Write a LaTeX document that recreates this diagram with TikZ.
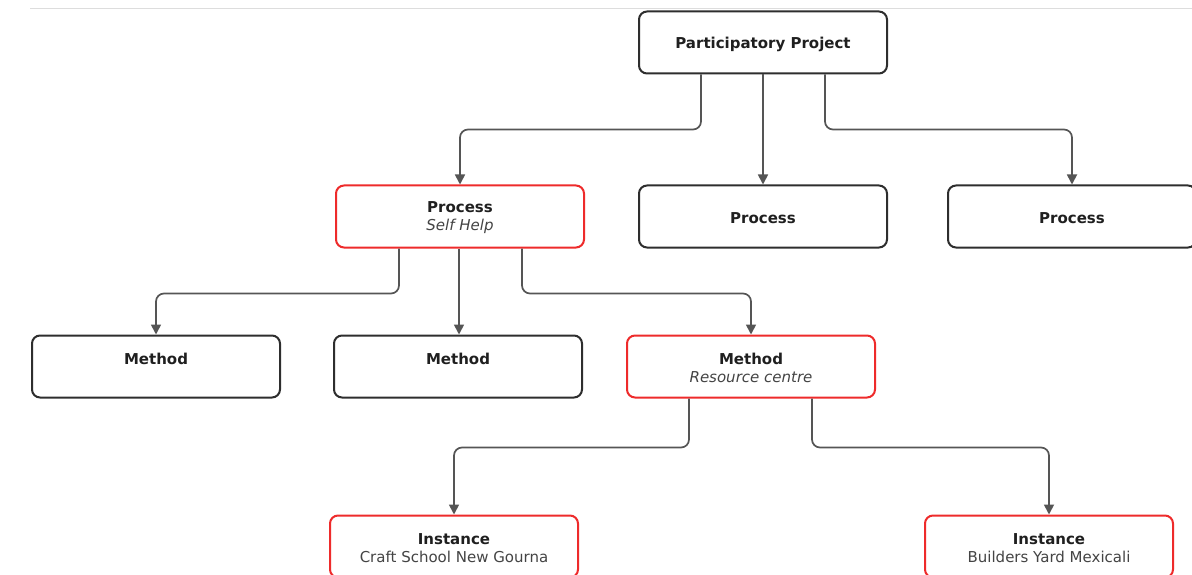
\documentclass[tikz,border=0pt]{standalone}
\usepackage{fontspec}
\setmainfont{DejaVu Sans}
\usetikzlibrary{arrows.meta}
\definecolor{boxline}{HTML}{2E2E2E}
\definecolor{hlred}{HTML}{EE2B2B}
\definecolor{linkgray}{HTML}{555555}
\definecolor{subgray}{HTML}{444444}
\definecolor{rulegray}{HTML}{DDDDDD}
\begin{document}
\begin{tikzpicture}[x=1pt,y=-1pt,
  box/.style={draw=boxline, line width=2pt, rounded corners=8pt, fill=white,
    minimum width=248pt, minimum height=62pt, inner sep=0pt, align=center,
    font=\fontsize{15}{18}\selectfont, text=black!88},
  hl/.style={draw=hlred},
  link/.style={draw=linkgray, line width=1.7pt, rounded corners=8pt,
    -{Triangle[length=10pt,width=10pt]}},
]
\useasboundingbox (0,0) rectangle (1192,575);
\clip (0,0) rectangle (1192,575);
% title line and grey second line of a box, set a little low
\newcommand{\ttl}[1]{\raisebox{-1.5pt}[\height][\depth]{\bfseries #1}}
\newcommand{\sub}[1]{\\\raisebox{-1.5pt}[\height][\depth]{\color{subgray}#1}}

% header rule
\draw[rulegray, line width=1pt] (30,9) -- (1192,9);

% boxes
\node[box] (pp) at (763,42.5) {\ttl{Participatory Project}};
\node[box,hl] (p1) at (460,216.5) {\ttl{Process}\sub{\itshape Self Help}};
\node[box] (p2) at (763,216.5) {\ttl{Process}};
\node[box] (p3) at (1072,216.5) {\ttl{Process}};
\node[box] (m1) at (156,366.5) {\ttl{Method}\sub{\itshape\phantom{Resource centre}}};
\node[box] (m2) at (458,366.5) {\ttl{Method}\sub{\itshape\phantom{Resource centre}}};
\node[box,hl] (m3) at (751,366.5) {\ttl{Method}\sub{\itshape Resource centre}};
\node[box,hl] (i1) at (454,546.5) {\ttl{Instance}\sub{Craft School New Gourna}};
\node[box,hl] (i2) at (1049,546.5) {\ttl{Instance}\sub{Builders Yard Mexicali}};

% connectors
\draw[link] ([xshift=-62pt]pp.south) -- ++(0,55) -| (p1.north);
\draw[link] (pp.south) -- (p2.north);
\draw[link] ([xshift=62pt]pp.south) -- ++(0,55) -| (p3.north);

\draw[link] ([xshift=-61pt]p1.south) -- ++(0,45) -| (m1.north);
\draw[link] ([xshift=-1pt]p1.south) -- ([xshift=-1pt]p1.south |- m2.north);
\draw[link] ([xshift=62pt]p1.south) -- ++(0,45) -| (m3.north);

\draw[link] ([xshift=-62pt]m3.south) -- ++(0,49) -| (i1.north);
\draw[link] ([xshift=61pt]m3.south) -- ++(0,49) -| (i2.north);
\end{tikzpicture}
\end{document}
